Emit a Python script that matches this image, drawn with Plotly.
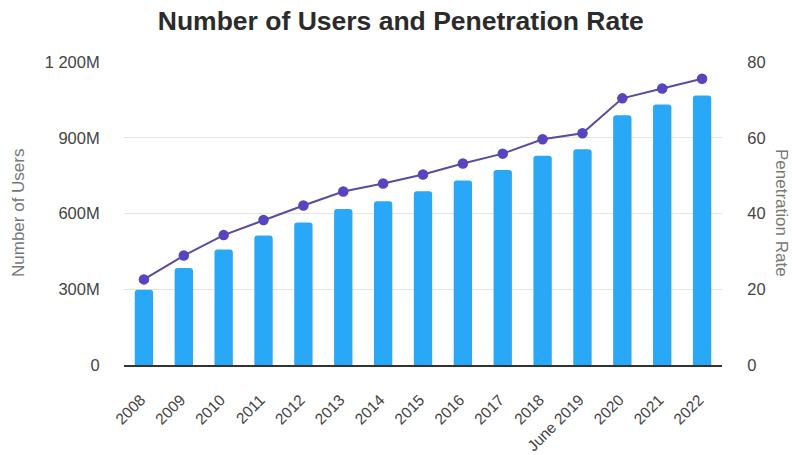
import plotly.graph_objects as go

years = ["2008", "2009", "2010", "2011", "2012", "2013", "2014", "2015", "2016",
         "2017", "2018", "June 2019", "2020", "2021", "2022"]
users_m = [298, 384, 457, 513, 564, 618, 649, 688, 731, 772, 829, 854, 989, 1032, 1067]
penetration = [22.6, 28.9, 34.3, 38.3, 42.1, 45.8, 47.9, 50.3, 53.2, 55.8, 59.6, 61.2, 70.4, 73.0, 75.6]

left_ticks = [0, 300, 600, 900, 1200]
left_ticktext = ["0", "300M", "600M", "900M", "1 200M"]
right_ticks = [0, 20, 40, 60, 80]

font_family = "Liberation Sans, Arial, sans-serif"

ML, MR, MT, MB = 124, 70, 62, 90
W, H = 792, 455

fig = go.Figure()
fig.add_trace(go.Bar(
    x=years, y=users_m, name="Number of Users",
    marker=dict(color="#2aa8f8", cornerradius=3, line=dict(width=0)),
    width=0.46,
))
fig.add_trace(go.Scatter(
    x=years, y=penetration, name="Penetration Rate", yaxis="y2",
    mode="lines+markers",
    line=dict(color="#5b4a9e", width=2),
    marker=dict(color="#5545c0", size=10.5),
))

fig.update_layout(
    width=W, height=H,
    margin=dict(l=ML, r=MR, t=MT, b=MB),
    paper_bgcolor="white", plot_bgcolor="white",
    showlegend=False,
    font=dict(family=font_family, color="#444444", size=16),
    title=dict(text="<b>Number of Users and Penetration Rate</b>",
               x=0.506, xanchor="center", y=0.955, yanchor="middle",
               font=dict(size=26.5, color="#2b2b2b", family=font_family)),
    xaxis=dict(
        type="category", tickangle=-45, tickfont=dict(size=15.5, color="#444444"),
        tickvals=years, ticktext=[y + "\u00a0" for y in years],
        showgrid=False, showline=True, linecolor="#333333", linewidth=1.5,
        ticks="", range=[-0.5, 14.5], ticklabelstandoff=15, automargin=False,
    ),
    yaxis=dict(
        range=[0, 1200], tickvals=left_ticks, ticktext=left_ticktext,
        showgrid=True, gridcolor="#e4e4e4", gridwidth=1,
        zeroline=False, showline=False, ticks="outside", ticklen=20,
        tickcolor="rgba(0,0,0,0)", automargin=False,
        tickfont=dict(size=16.5, color="#444444"),
    ),
    yaxis2=dict(
        range=[0, 80], tickvals=right_ticks, overlaying="y", side="right",
        showgrid=False, zeroline=False, showline=False,
        ticks="outside", ticklen=21, tickcolor="rgba(0,0,0,0)", automargin=False,
        tickfont=dict(size=16.5, color="#444444"),
    ),
)

pw = W - ML - MR
ph = H - MT - MB
for txt, px, py, ang in [("Number of Users", 18, 213, -90),
                         ("Penetration Rate", 782, 213, 90)]:
    fig.add_annotation(text=txt, x=(px - ML) / pw, y=(H - MB - py) / ph,
                       xref="paper", yref="paper", showarrow=False,
                       textangle=ang, xanchor="center", yanchor="middle",
                       font=dict(size=17, color="#777777"))

fig.write_html("out.html", config={"displayModeBar": False},
               post_script="document.body.style.margin='0';document.body.style.padding='0';")
